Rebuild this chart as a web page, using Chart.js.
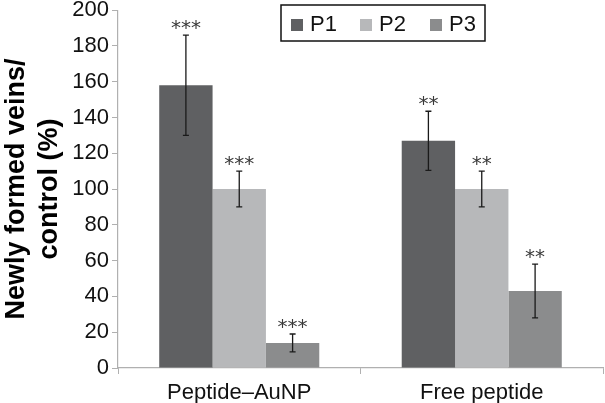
<!DOCTYPE html>
<html>
<head>
<meta charset="utf-8">
<script src="https://cdn.jsdelivr.net/npm/chart.js@4/dist/chart.umd.min.js"></script>
<style>
html,body{margin:0;padding:0;background:#fff;}
#wrap{width:605px;height:403px;position:relative;}
</style>
</head>
<body>
<div id="wrap"><canvas id="c" width="605" height="403"></canvas></div>
<script>
const categories = ['Peptide\u2013AuNP', 'Free peptide'];
const seriesNames = ['P1', 'P2', 'P3'];
const p1Values = [158, 127];
const p2Values = [100, 100];
const p3Values = [14, 43];
const p1Errors = [28, 16.5];
const p2Errors = [10, 10];
const p3Errors = [5, 15];
const significance = ['***', '**'];
const yTicks = [0, 20, 40, 60, 80, 100, 120, 140, 160, 180, 200];
const yTitle = ['Newly formed veins/', 'control (%)'];

const colors = ['#5f6062', '#b7b8ba', '#8b8c8d'];
const FONT = "'Liberation Sans', Arial, sans-serif";

const errorPlugin = {
  id: 'errs',
  afterDatasetsDraw(chart) {
    const ctx = chart.ctx;
    const y = chart.scales.y;
    chart.data.datasets.forEach((ds, di) => {
      const meta = chart.getDatasetMeta(di);
      meta.data.forEach((bar, i) => {
        const v = ds.data[i], e = ds.errors[i];
        const yt = y.getPixelForValue(v + e), yb = y.getPixelForValue(v - e);
        const x = bar.x;
        ctx.save();
        ctx.strokeStyle = '#1a1a1a';
        ctx.lineWidth = 1.3;
        ctx.beginPath();
        ctx.moveTo(x, yt); ctx.lineTo(x, yb);
        ctx.moveTo(x - 3, yt); ctx.lineTo(x + 3, yt);
        ctx.moveTo(x - 3, yb); ctx.lineTo(x + 3, yb);
        ctx.stroke();
        ctx.fillStyle = '#3a3a3a';
        ctx.font = "20px 'DejaVu Sans', sans-serif";
        ctx.textAlign = 'center';
        ctx.textBaseline = 'alphabetic';
        ctx.fillText(significance[i], x, yt - 1);
        ctx.restore();
      });
    });
  }
};

const legendPlugin = {
  id: 'boxLegend',
  afterDraw(chart) {
    const ctx = chart.ctx;
    ctx.save();
    ctx.strokeStyle = '#111';
    ctx.lineWidth = 1.5;
    ctx.strokeRect(281, 5, 204, 36);
    ctx.font = "22px " + FONT;
    ctx.textBaseline = 'middle';
    ctx.textAlign = 'left';
    const xs = [291, 360, 430];
    chart.data.datasets.forEach((ds, i) => {
      ctx.fillStyle = ds.backgroundColor;
      ctx.fillRect(xs[i], 19, 12, 12);
      ctx.fillStyle = '#111';
      ctx.fillText(ds.label, xs[i] + 19, 25);
    });
    ctx.restore();
  }
};

const allValues = [p1Values, p2Values, p3Values];
const allErrors = [p1Errors, p2Errors, p3Errors];

new Chart(document.getElementById('c'), {
  type: 'bar',
  data: {
    labels: categories,
    datasets: seriesNames.map((n, i) => ({
      label: n,
      data: allValues[i],
      errors: allErrors[i],
      backgroundColor: colors[i],
      borderWidth: 0,
      categoryPercentage: 0.66,
      barPercentage: 1.0
    }))
  },
  options: {
    responsive: false,
    animation: false,
    layout: { padding: { top: 0, right: 2, left: 0, bottom: 0 } },
    plugins: { legend: { display: false }, tooltip: { enabled: false } },
    scales: {
      x: {
        grid: { drawOnChartArea: false, color: '#b0b0b0', tickLength: 6, offset: true },
        border: { color: '#b0b0b0', width: 1.2 },
        ticks: { color: '#111', font: { family: FONT, size: 22 }, padding: 6 },
        afterFit(s) { s.height = 35; }
      },
      y: {
        min: 0, max: 200,
        afterBuildTicks(s) { s.ticks = yTicks.map(v => ({ value: v })); },
        grid: { drawOnChartArea: false, color: '#b0b0b0', tickLength: 6 },
        border: { color: '#b0b0b0', width: 1.2 },
        ticks: { color: '#111', font: { family: FONT, size: 22, lineHeight: 0.65 }, padding: 3 },
        title: {
          display: true, text: yTitle, color: '#000',
          font: { family: FONT, size: 27, weight: 'bold', lineHeight: 1.22 },
          padding: { top: 0, bottom: 0 }
        },
        afterFit(s) { s.width = 118; }
      }
    }
  },
  plugins: [errorPlugin, legendPlugin]
});
</script>
</body>
</html>
